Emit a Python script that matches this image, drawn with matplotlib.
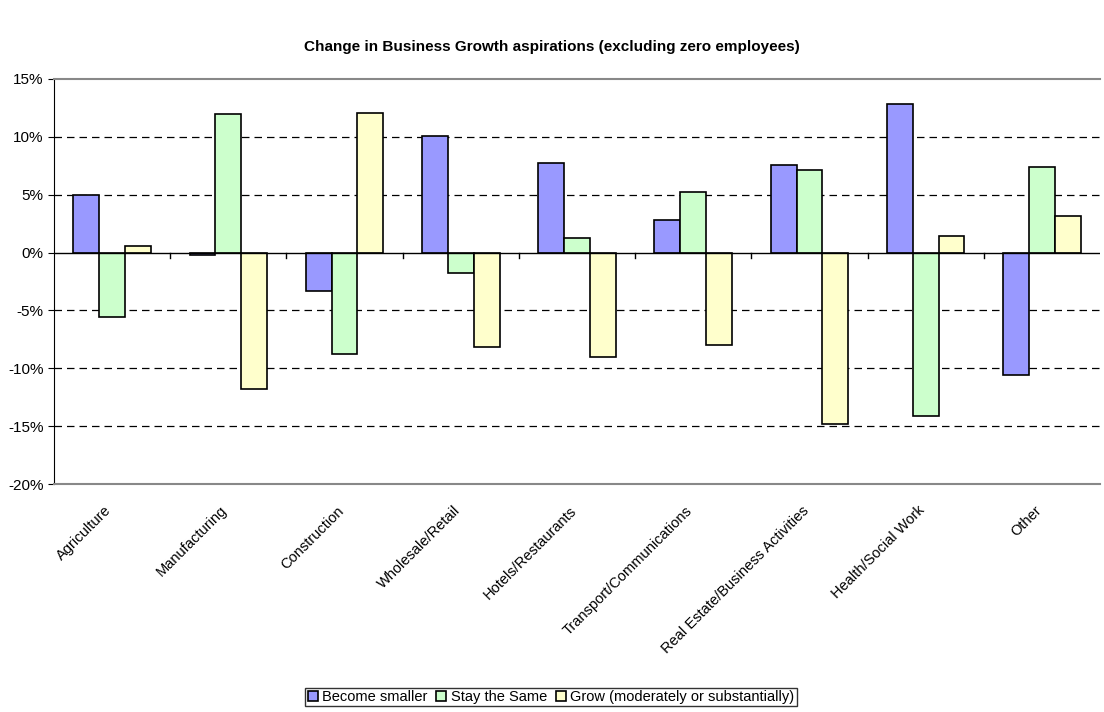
import matplotlib
matplotlib.use("Agg")
import matplotlib.pyplot as plt
import matplotlib.transforms as mtransforms
import numpy as np
from matplotlib.ticker import FuncFormatter, MultipleLocator

plt.rcParams['font.family'] = ['Liberation Sans', 'DejaVu Sans']

categories = ["Agriculture", "Manufacturing", "Construction", "Wholesale/Retail",
              "Hotels/Restaurants", "Transport/Communications",
              "Real Estate/Business Activities", "Health/Social Work", "Other"]
series_names = ["Become smaller", "Stay the Same", "Grow (moderately or substantially)"]
become_smaller = [5.0, -0.2, -3.3, 10.1, 7.7, 2.8, 7.6, 12.8, -10.6]
stay_same = [-5.6, 12.0, -8.8, -1.8, 1.3, 5.2, 7.1, -14.1, 7.4]
grow = [0.6, -11.8, 12.1, -8.2, -9.0, -8.0, -14.8, 1.4, 3.2]
colors = ["#9999FF", "#CCFFCC", "#FFFFCC"]

fig = plt.figure(figsize=(11.04, 7.12), dpi=100)
ax = fig.add_axes([54/1104, (712-484)/712, (1100-54)/1104, (484-79)/712])

x = np.arange(len(categories))
w = 1/4.5
for i, (vals, c, name) in enumerate(zip([become_smaller, stay_same, grow], colors, series_names)):
    ax.bar(x + (i-1)*w, vals, width=w, color=c, edgecolor="black", linewidth=1.2,
           label=name, zorder=3)

ax.set_xlim(-0.5, len(categories)-0.5)
ax.set_ylim(-20, 15)
ax.yaxis.set_major_locator(MultipleLocator(5))
ax.yaxis.set_major_formatter(FuncFormatter(lambda v, p: f"{v:.0f}%"))
for v in [-15, -10, -5, 5, 10]:
    ax.axhline(v, color="black", linestyle=(0, (6, 4)), linewidth=0.9, zorder=1)
ax.axhline(0, color="black", linewidth=1.0, zorder=4)

ax.spines["right"].set_visible(False)
for s in ["top", "bottom"]:
    ax.spines[s].set_color("#888888")
    ax.spines[s].set_linewidth(1.5)
ax.spines["left"].set_color("black")

ax.set_xticks(x)
ax.set_xticklabels(categories, rotation=45, ha="right", rotation_mode="anchor", fontsize=10.5)
ax.tick_params(axis="x", length=0, pad=14)
offset = mtransforms.ScaledTranslation(-8/100, 0, fig.dpi_scale_trans)
for lbl in ax.get_xticklabels():
    lbl.set_transform(lbl.get_transform() + offset)
ax.tick_params(axis="y", labelsize=11, length=4, direction="out")
for b in np.arange(0.5, len(categories)-0.5, 1):
    ax.plot([b, b], [0, -0.5], color="black", linewidth=1, zorder=4)

fig.text(0.5, 1-47/712, "Change in Business Growth aspirations (excluding zero employees)",
         ha="center", va="center", fontsize=11, fontweight="bold")

leg = fig.legend(loc="center", bbox_to_anchor=(551/1104, 1-697/712), ncol=3,
                 fontsize=10.5, frameon=True, fancybox=False, edgecolor="black",
                 handlelength=0.7, handleheight=0.7, handletextpad=0.3,
                 columnspacing=0.6, borderpad=0.15, borderaxespad=0)
leg.get_frame().set_linewidth(1.0)

fig.savefig("out.png", dpi=100)
